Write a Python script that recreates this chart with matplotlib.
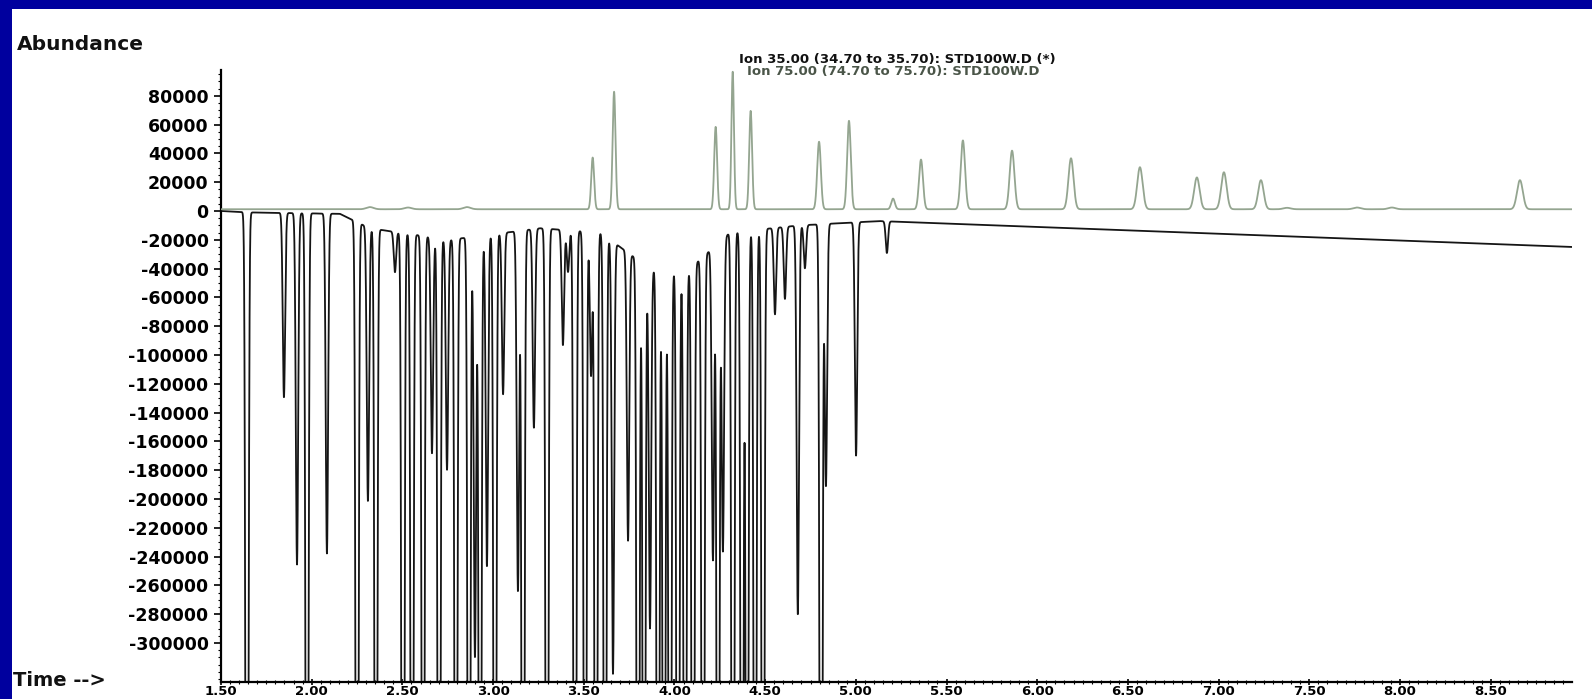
import numpy as np
import matplotlib
matplotlib.use("Agg")
import matplotlib.pyplot as plt
from matplotlib.patches import Rectangle
from matplotlib.ticker import FixedLocator, FixedFormatter, MultipleLocator

# ---- Ion 75 trace (upright): retention time [min], abundance, peak sigma [min]
ion75_rt = [2.321, 2.531, 2.856, 3.549, 3.667, 4.227, 4.321, 4.420, 4.797, 4.962,
            5.205, 5.359, 5.590, 5.861, 6.186, 6.566, 6.880, 7.029, 7.233,
            7.377, 7.763, 7.955, 8.661]
ion75_abund = [1500, 1200, 1500, 35900, 81600, 57200, 95500, 68300, 46900, 61400,
               7400, 34500, 47800, 40700, 35400, 29200, 22100, 25700, 20200,
               1000, 1200, 1200, 20200]
ion75_sigma = [0.02, 0.02, 0.02, 0.008, 0.008, 0.008, 0.007, 0.008, 0.010, 0.010,
               0.010, 0.011, 0.012, 0.013, 0.014, 0.015, 0.015, 0.015, 0.015,
               0.02, 0.02, 0.02, 0.016]
ion75_offset = 1200

# ---- Ion 35 trace (inverted): off-scale peaks carry -700000 or more
ion35_rt = [1.643, 1.847, 1.919, 1.974, 2.084, 2.250, 2.310, 2.354, 2.459, 2.503,
            2.553, 2.614, 2.663, 2.702, 2.746, 2.795, 2.867, 2.900, 2.928, 2.966,
            3.010, 3.055, 3.137, 3.165, 3.225, 3.297, 3.385, 3.413, 3.451, 3.507,
            3.540, 3.567, 3.617, 3.661, 3.744, 3.799, 3.832, 3.865, 3.909, 3.942,
            3.975, 4.019, 4.058, 4.102, 4.157, 4.212, 4.240, 4.267, 4.322, 4.372,
            4.400, 4.444, 4.488, 4.554, 4.609, 4.680, 4.719, 4.808, 4.835, 5.001,
            5.171]
ion35_abund = [-900000, -128000, -244000, -800000, -236000, -850000, -190000, -750000, -28000, -900000,
               -800000, -750000, -150000, -850000, -160000, -750000, -800000, -292000, -750000, -230000,
               -800000, -112000, -250000, -850000, -138000, -800000, -80000, -29000, -850000, -750000,
               -100000, -800000, -750000, -300000, -200000, -800000, -700000, -250000, -750000, -700000,
               -800000, -850000, -750000, -800000, -800000, -217000, -750000, -217000, -850000, -800000,
               -700000, -750000, -800000, -60000, -50000, -270000, -30000, -850000, -182000, -162000,
               -22000]
ion35_sigma = 0.0065

# slowly drifting baseline of the inverted trace
ion35_base_rt = [1.50, 1.66, 2.156, 2.32, 2.76, 3.26, 3.59, 3.865, 4.085, 4.306, 4.69, 5.13, 8.95]
ion35_base_val = [0, -1000, -2000, -12000, -20000, -12000, -15000, -40000, -40000, -15000, -10000, -7000, -25000]

y_ticks = list(range(80000, -300001, -20000))
y_labels = [str(v) for v in y_ticks]
x_ticks = [1.5, 2.0, 2.5, 3.0, 3.5, 4.0, 4.5, 5.0, 5.5, 6.0, 6.5, 7.0, 7.5, 8.0, 8.5]
x_labels = [f"{v:.2f}" for v in x_ticks]

title_lines = ["Ion 35.00 (34.70 to 35.70): STD100W.D (*)",
               "Ion 75.00 (74.70 to 75.70): STD100W.D"]

# ---- build the traces
t = np.linspace(1.5, 8.95, 20000)


def chromatogram(rts, abunds, sigmas, base):
    sig = np.broadcast_to(np.asarray(sigmas, float), (len(rts),))
    y = np.array(base, dtype=float)
    for r, a, s in zip(rts, abunds, sig):
        y = y + a * np.exp(-0.5 * ((t - r) / s) ** 2)
    return y


trace75 = chromatogram(ion75_rt, ion75_abund, ion75_sigma, np.full_like(t, ion75_offset))
trace35 = chromatogram(ion35_rt, ion35_abund, ion35_sigma,
                       np.interp(t, ion35_base_rt, ion35_base_val))

# ---- figure
W, H = 1592, 699
fig = plt.figure(figsize=(W / 100, H / 100), dpi=100)
fig.patch.set_facecolor("#00009E")
fig.patches.append(Rectangle((12 / W, 0), 1, (H - 9) / H, transform=fig.transFigure,
                             facecolor="white", edgecolor="none", zorder=-10))

ax_left, ax_right, ax_top, ax_bottom = 221, 1572, 70, 682
ax = fig.add_axes([ax_left / W, (H - ax_bottom) / H,
                   (ax_right - ax_left) / W, (ax_bottom - ax_top) / H])
ax.set_zorder(5)
ax.set_facecolor("none")

ax.plot(t, trace35, color="#151515", lw=1.3, zorder=2)
ax.plot(t, trace75, color="#94A590", lw=1.3, zorder=3)

ax.set_xlim(1.5, 8.948)
ax.set_ylim(-327100, 97900)

for side in ("top", "right"):
    ax.spines[side].set_visible(False)
for side in ("left", "bottom"):
    ax.spines[side].set_linewidth(1.6)
    ax.spines[side].set_color("black")

ax.yaxis.set_major_locator(FixedLocator(y_ticks))
ax.yaxis.set_major_formatter(FixedFormatter(y_labels))
ax.yaxis.set_minor_locator(MultipleLocator(5000))
ax.xaxis.set_major_locator(FixedLocator(x_ticks))
ax.xaxis.set_major_formatter(FixedFormatter(x_labels))
ax.xaxis.set_minor_locator(MultipleLocator(0.05))

ax.tick_params(axis="y", which="major", direction="out", length=5, width=1.2, pad=4)
ax.tick_params(axis="y", which="minor", direction="out", length=2.5, width=0.8)
ax.tick_params(axis="x", which="major", direction="inout", length=4, width=1.2, pad=0.5)
ax.tick_params(axis="x", which="minor", direction="inout", length=3, width=0.8)

for lab in ax.get_yticklabels():
    lab.set_fontfamily("DejaVu Sans")
    lab.set_fontweight("bold")
    lab.set_fontsize(12.5)
for lab in ax.get_xticklabels():
    lab.set_fontfamily("DejaVu Sans")
    lab.set_fontweight("bold")
    lab.set_fontsize(9.5)

fig.text(17 / W, 1 - 45 / H, "Abundance", ha="left", va="center",
         fontsize=14.5, fontweight="bold", family="DejaVu Sans", color="#111111")
fig.text(13 / W, 1 - 680 / H, "Time -->", ha="left", va="center",
         fontsize=14, fontweight="bold", family="DejaVu Sans", color="#111111")
fig.text(897 / W, 1 - 60 / H, title_lines[0], ha="center", va="center",
         fontsize=9.5, fontweight="bold", family="DejaVu Sans", color="#111111")
fig.text(893 / W, 1 - 72 / H, title_lines[1], ha="center", va="center",
         fontsize=9.5, fontweight="bold", family="DejaVu Sans", color="#4A5548")

fig.savefig("out.png", dpi=100, facecolor=fig.get_facecolor())
